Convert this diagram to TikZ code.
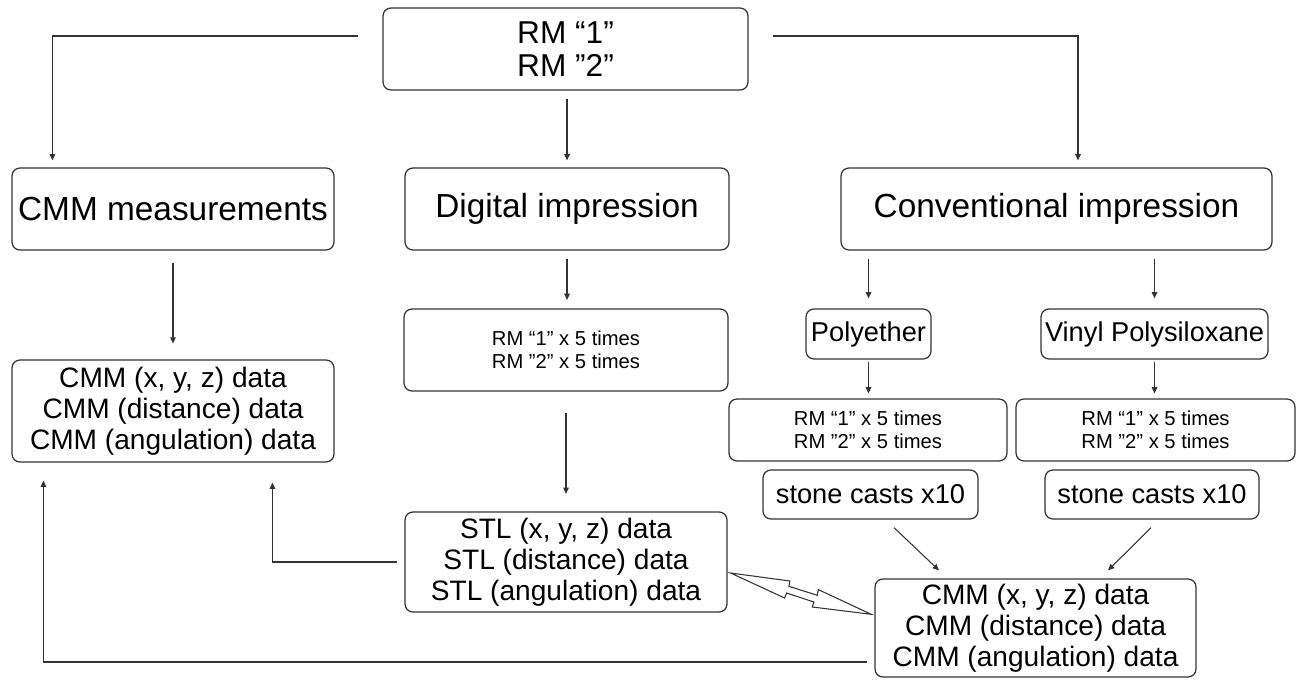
\documentclass[tikz,border=0pt]{standalone}
\usepackage{fontspec}
\setmainfont{Liberation Sans}
\usetikzlibrary{arrows.meta,calc}

\begin{document}
\begin{tikzpicture}[x=0.02cm, y=-0.02cm,
  box/.style={draw=black!80, line width=0.7pt, rounded corners=4.5pt, align=center, inner sep=0pt},
  conn/.style={draw=black!80, line width=0.6pt, -{Triangle[length=3.6pt,width=3.2pt]}},
  topfont/.style={font=\fontsize{18}{18.7}\selectfont},
  bigfont/.style={font=\fontsize{19}{21}\selectfont},
  datafont/.style={font=\fontsize{16}{17.6}\selectfont},
  midfont/.style={font=\fontsize{15.5}{17}\selectfont},
  smallfont/.style={font=\fontsize{11.5}{13.4}\selectfont}]

\useasboundingbox (0,0) rectangle (1300,679);

% Modelos de referencia
\node[box, topfont, minimum width=7.30cm, minimum height=1.64cm] (top) at (565.5,49)
{RM “1”\\RM ”2”};

% Segundo nivel
\node[box, bigfont, minimum width=6.44cm, minimum height=1.64cm] (cmm) at (173,209) {CMM measurements};
\node[box, bigfont, minimum width=6.48cm, minimum height=1.64cm] (digital) at (567,209) {Digital impression};
\node[box, bigfont, minimum width=8.62cm, minimum height=1.64cm] (conv) at (1056.5,209) {Conventional impression};

% Impresion digital
\node[box, smallfont, minimum width=6.48cm, minimum height=1.64cm] (digrm) at (566,350)
{RM “1” x 5 times\\RM ”2” x 5 times};
\node[box, datafont, minimum width=6.44cm, minimum height=2.0cm] (stl) at (566,562)
{STL (x, y, z) data\\STL (distance) data\\STL (angulation) data};

% Impresion convencional
\node[box, midfont, minimum width=2.5cm, minimum height=1.0cm] (poly) at (868.5,334) {Polyether};
\node[box, midfont, minimum width=4.54cm, minimum height=1.0cm] (vps) at (1154.5,334) {Vinyl Polysiloxane};

\node[box, smallfont, minimum width=5.56cm, minimum height=1.24cm] (polyrm) at (868,430)
{RM “1” x 5 times\\RM ”2” x 5 times};
\node[box, smallfont, minimum width=5.58cm, minimum height=1.24cm] (vpsrm) at (1155.5,430)
{RM “1” x 5 times\\RM ”2” x 5 times};

\node[box, midfont, minimum width=4.3cm, minimum height=0.98cm] (cast1) at (870.5,494.5) {stone casts x10};
\node[box, midfont, minimum width=4.28cm, minimum height=0.98cm] (cast2) at (1152,494.5) {stone casts x10};

% Datos CMM
\node[box, datafont, minimum width=6.44cm, minimum height=2.04cm] (cmmdata) at (173,411)
{CMM (x, y, z) data\\CMM (distance) data\\CMM (angulation) data};
\node[box, datafont, minimum width=6.42cm, minimum height=1.96cm] (cmmb) at (1035.5,628)
{CMM (x, y, z) data\\CMM (distance) data\\CMM (angulation) data};

% Flechas desde arriba
\draw[conn] ($(top.west)+(-24,-13)$) -| ($(cmm.north west)+(41,-7)$);
\draw[conn] ($(top.east)+(24,-13)$) -| ($(conv.north)+(21.5,-7)$);
\draw[conn, shorten <=5pt, shorten >=4pt] (digital.north |- top.south) -- (digital.north);

% Flechas verticales
\draw[conn, shorten <=6.8pt, shorten >=9pt] (cmm.south) -- (cmmdata.north);
\draw[conn, shorten <=4.5pt, shorten >=4.8pt] (digital.south) -- (digrm.north -| digital.south);
\draw[conn, shorten <=12pt, shorten >=10pt] (digrm.south) -- (stl.north -| digrm.south);
\draw[conn, shorten <=4.5pt, shorten >=5.7pt] (poly.north |- conv.south) -- (poly.north);
\draw[conn, shorten <=4.5pt, shorten >=5.7pt] (vps.north |- conv.south) -- (vps.north);
\draw[conn, shorten <=1.1pt, shorten >=2.8pt] (poly.south) -- (polyrm.north -| poly.south);
\draw[conn, shorten <=1.1pt, shorten >=2.8pt] (vps.south) -- (vpsrm.north -| vps.south);

% Vaciados a CMM
\draw[conn] ($(cast1.south)+(23.5,8)$) -- ($(cmmb.north)+(-96.5,-8)$);
\draw[conn] ($(cast2.south)+(-1,8)$) -- ($(cmmb.north)+(72.5,-8)$);

% Retorno a datos CMM
\draw[conn] ($(stl.west)+(-7,0)$) -| ($(cmmdata.south west)+(261,20)$);
\draw[conn] ($(cmmb.west)+(-7,34)$) -| ($(cmmdata.south west)+(32,18)$);

% Comparacion
\draw[draw=black!80, line width=0.6pt, fill=white]
($(stl.east)+(3,11)$) -- ++(59.3,8) -- ++(-1,5.3) -- ++(28.4,9) -- ++(1,-5.7)
-- ++(53,24.7) -- ++(-59,-7.3) -- ++(1.6,-5) -- ++(-27.3,-9) -- ++(-2,5) -- cycle;

\end{tikzpicture}
\end{document}
